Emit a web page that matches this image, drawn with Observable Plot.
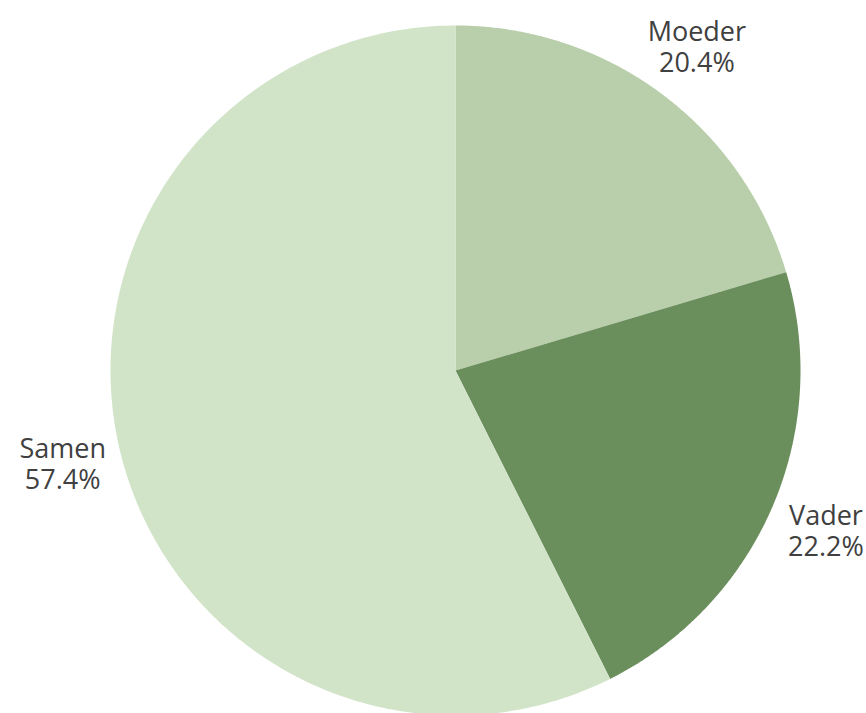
<!DOCTYPE html>
<html>
<head>
<meta charset="utf-8">
<script src="https://cdn.jsdelivr.net/npm/d3@7"></script>
<script src="https://cdn.jsdelivr.net/npm/@observablehq/plot@0.6"></script>
<style>
  html, body { margin: 0; padding: 0; background: #fff; }
  #chart svg { display: block; }
</style>
</head>
<body>
<div id="chart"></div>
<script>
// Data
const categories = ["Moeder", "Vader", "Samen"];
const percentages = [20.4, 22.2, 57.4];
const colors = ["#b9cfab", "#6b8f5c", "#d1e4c8"];

const W = 866, H = 713;
const cx = 455, cy = 370, R = 345;

// pie layout, starting at 12 o'clock, clockwise, in data order
const pie = d3.pie().sort(null).value(d => d.value)(
  categories.map((c, i) => ({name: c, value: percentages[i]}))
);

// polygon points for each slice, in unit-circle coordinates
const slicePts = [];
pie.forEach(p => {
  const n = 240;
  slicePts.push({name: p.data.name, x: 0, y: 0});
  for (let k = 0; k <= n; k++) {
    const a = p.startAngle + (p.endAngle - p.startAngle) * k / n;
    slicePts.push({name: p.data.name, x: Math.sin(a), y: Math.cos(a)});
  }
  slicePts.push({name: p.data.name, x: 0, y: 0});
});

const labelR = 1.17;
const labels = pie.map(p => {
  const a = (p.startAngle + p.endAngle) / 2;
  return {
    name: p.data.name,
    text: `${p.data.name}\n${p.data.value.toFixed(1)}%`,
    x: labelR * Math.sin(a),
    y: labelR * Math.cos(a)
  };
});

const chart = Plot.plot({
  width: W,
  height: H,
  margin: 0,
  style: {background: "#fff", fontFamily: "'Open Sans', sans-serif"},
  x: {domain: [-cx / R, (W - cx) / R], range: [0, W], axis: null},
  y: {domain: [-(H - cy) / R, cy / R], range: [H, 0], axis: null},
  color: {domain: categories, range: colors},
  marks: [
    Plot.line(slicePts, {x: "x", y: "y", z: "name", fill: "name", stroke: "none", curve: "linear"}),
    Plot.text(labels, {
      x: "x", y: "y", text: "text",
      fontSize: 27, lineHeight: 1.15, fill: "#404040",
      textAnchor: "middle", lineAnchor: "middle"
    })
  ]
});

document.getElementById("chart").appendChild(chart);
</script>
</body>
</html>
